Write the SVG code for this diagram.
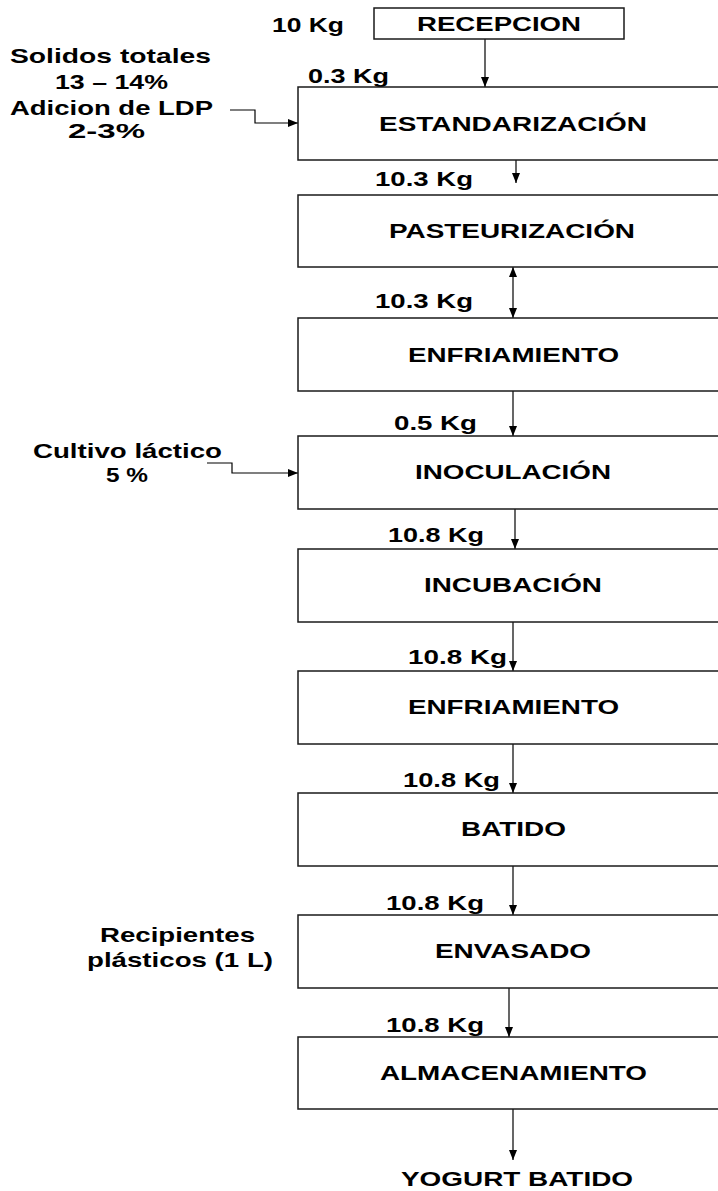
<svg xmlns="http://www.w3.org/2000/svg" width="718" height="1191" viewBox="0 0 718 1191">
<defs>
<style>
.box{fill:#ffffff;stroke:#1a1a1a;stroke-width:1.5}
.t{font-family:"Liberation Sans",Arial,sans-serif;font-weight:bold;font-size:21px;fill:#000}
.c{fill:none;stroke:#000;stroke-width:1.2}
</style>
<marker id="ah" viewBox="0 0 10 10" refX="10" refY="5" markerWidth="10" markerHeight="10" markerUnits="userSpaceOnUse" orient="auto-start-reverse">
<path d="M0,1 L10,5 L0,9 z" fill="#000"/>
</marker>
</defs>
<rect width="718" height="1191" fill="#ffffff"/>

<g id="connectors">
<path class="c" d="M485,39 V87" marker-end="url(#ah)"/>
<path class="c" d="M230,110 H255 V123 H298" marker-end="url(#ah)"/>
<path class="c" d="M516,160 V183" marker-end="url(#ah)"/>
<path class="c" d="M513,267 V318" marker-start="url(#ah)" marker-end="url(#ah)"/>
<path class="c" d="M513,391 V436" marker-end="url(#ah)"/>
<path class="c" d="M207,463 H232 V473 H298" marker-end="url(#ah)"/>
<path class="c" d="M515,509 V549" marker-end="url(#ah)"/>
<path class="c" d="M513,622 V671" marker-end="url(#ah)"/>
<path class="c" d="M513,744 V793" marker-end="url(#ah)"/>
<path class="c" d="M513,866 V915" marker-end="url(#ah)"/>
<path class="c" d="M509,988 V1037" marker-end="url(#ah)"/>
<path class="c" d="M513,1109 V1160" marker-end="url(#ah)"/>
</g>

<g id="labels">
<text class="t" x="272" y="32" textLength="72" lengthAdjust="spacingAndGlyphs">10 Kg</text>
<text class="t" x="10" y="63" textLength="201" lengthAdjust="spacingAndGlyphs">Solidos totales</text>
<text class="t" x="55" y="89" textLength="113" lengthAdjust="spacingAndGlyphs">13 – 14%</text>
<text class="t" x="10" y="115" textLength="203" lengthAdjust="spacingAndGlyphs">Adicion de LDP</text>
<text class="t" x="68" y="138" textLength="77" lengthAdjust="spacingAndGlyphs">2-3%</text>
<text class="t" x="308" y="83" textLength="81" lengthAdjust="spacingAndGlyphs">0.3 Kg</text>
<text class="t" x="375" y="186" textLength="98" lengthAdjust="spacingAndGlyphs">10.3 Kg</text>
<text class="t" x="375" y="308" textLength="98" lengthAdjust="spacingAndGlyphs">10.3 Kg</text>
<text class="t" x="394" y="430" textLength="83" lengthAdjust="spacingAndGlyphs">0.5 Kg</text>
<text class="t" x="33" y="458" textLength="189" lengthAdjust="spacingAndGlyphs">Cultivo láctico</text>
<text class="t" x="106" y="482" textLength="42" lengthAdjust="spacingAndGlyphs">5 %</text>
<text class="t" x="388" y="542" textLength="96" lengthAdjust="spacingAndGlyphs">10.8 Kg</text>
<text class="t" x="408" y="664" textLength="99" lengthAdjust="spacingAndGlyphs">10.8 Kg</text>
<text class="t" x="403" y="787" textLength="97" lengthAdjust="spacingAndGlyphs">10.8 Kg</text>
<text class="t" x="386" y="910" textLength="98" lengthAdjust="spacingAndGlyphs">10.8 Kg</text>
<text class="t" x="100" y="942" textLength="155" lengthAdjust="spacingAndGlyphs">Recipientes</text>
<text class="t" x="87" y="967" textLength="186" lengthAdjust="spacingAndGlyphs">plásticos (1 L)</text>
<text class="t" x="386" y="1032" textLength="98" lengthAdjust="spacingAndGlyphs">10.8 Kg</text>
<text class="t" x="401" y="1186" textLength="232" lengthAdjust="spacingAndGlyphs">YOGURT BATIDO</text>
</g>

<g id="recepcion">
<rect class="box" x="374" y="8" width="250" height="31"/>
<text class="t" x="417" y="31" textLength="164" lengthAdjust="spacingAndGlyphs">RECEPCION</text>
</g>
<g id="estandarizacion">
<rect class="box" x="298" y="87" width="430" height="73"/>
<text class="t" x="379" y="131" textLength="268" lengthAdjust="spacingAndGlyphs">ESTANDARIZACIÓN</text>
</g>
<g id="pasteurizacion">
<rect class="box" x="298" y="195" width="430" height="72"/>
<text class="t" x="389" y="238" textLength="246" lengthAdjust="spacingAndGlyphs">PASTEURIZACIÓN</text>
</g>
<g id="enfriamiento1">
<rect class="box" x="298" y="318" width="430" height="73"/>
<text class="t" x="408" y="362" textLength="211" lengthAdjust="spacingAndGlyphs">ENFRIAMIENTO</text>
</g>
<g id="inoculacion">
<rect class="box" x="298" y="436" width="430" height="73"/>
<text class="t" x="415" y="479" textLength="196" lengthAdjust="spacingAndGlyphs">INOCULACIÓN</text>
</g>
<g id="incubacion">
<rect class="box" x="298" y="549" width="430" height="73"/>
<text class="t" x="424" y="592" textLength="178" lengthAdjust="spacingAndGlyphs">INCUBACIÓN</text>
</g>
<g id="enfriamiento2">
<rect class="box" x="298" y="671" width="430" height="73"/>
<text class="t" x="408" y="714" textLength="211" lengthAdjust="spacingAndGlyphs">ENFRIAMIENTO</text>
</g>
<g id="batido">
<rect class="box" x="298" y="793" width="430" height="73"/>
<text class="t" x="461" y="836" textLength="105" lengthAdjust="spacingAndGlyphs">BATIDO</text>
</g>
<g id="envasado">
<rect class="box" x="298" y="915" width="430" height="73"/>
<text class="t" x="435" y="958" textLength="156" lengthAdjust="spacingAndGlyphs">ENVASADO</text>
</g>
<g id="almacenamiento">
<rect class="box" x="298" y="1037" width="430" height="72"/>
<text class="t" x="380" y="1080" textLength="267" lengthAdjust="spacingAndGlyphs">ALMACENAMIENTO</text>
</g>
</svg>
